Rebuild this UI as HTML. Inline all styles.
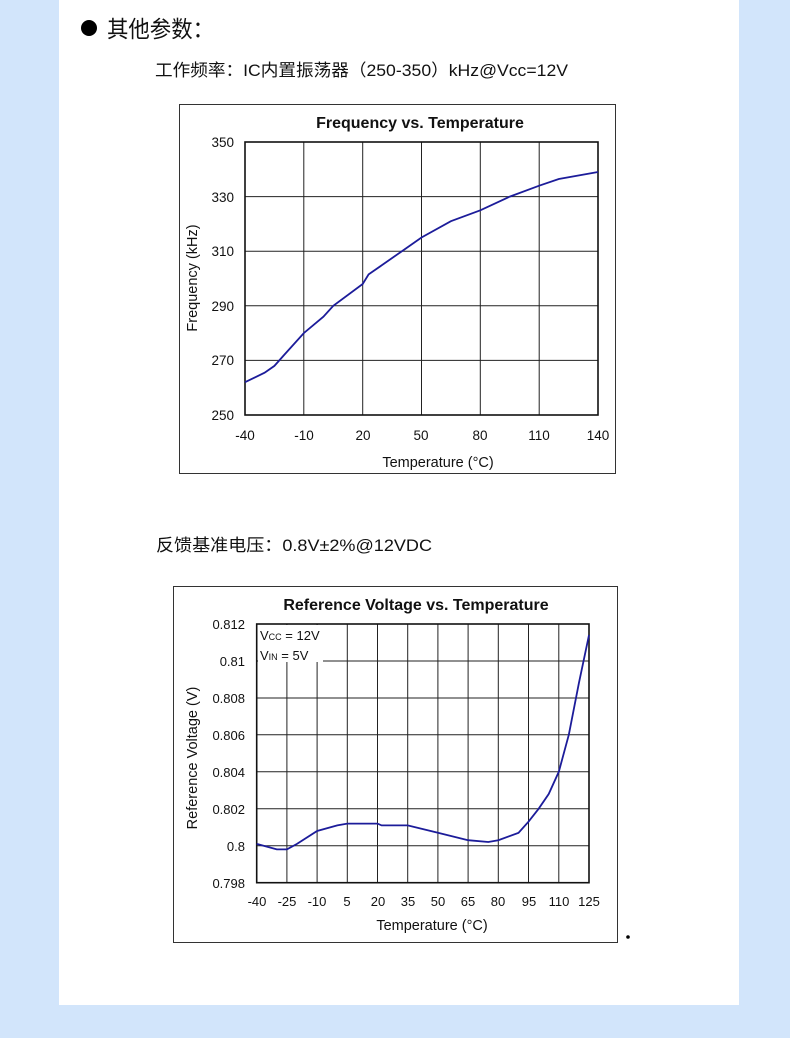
<!DOCTYPE html>
<html><head><meta charset="utf-8"><style>
html,body{margin:0;padding:0;width:790px;height:1038px;overflow:hidden;background:#d2e5fb;}
svg{position:absolute;left:0;top:0;}
</style></head><body>
<svg width="790" height="1038" viewBox="0 0 790 1038" xmlns="http://www.w3.org/2000/svg">
<rect x="0" y="0" width="790" height="1038" fill="#d2e5fb"/>
<rect x="59" y="0" width="680" height="1005" fill="#ffffff"/>
<g font-family="'Liberation Sans','Noto Sans CJK SC',sans-serif" fill="#111">
<circle cx="89" cy="28" r="8" fill="#000"/>
<text x="107" y="37" font-size="23" textLength="107" lengthAdjust="spacingAndGlyphs">其他参数：</text>
<text x="155" y="76" font-size="17" textLength="413" lengthAdjust="spacingAndGlyphs">工作频率：IC内置振荡器（250-350）kHz@Vcc=12V</text>
<text x="156" y="551" font-size="17" textLength="276" lengthAdjust="spacingAndGlyphs">反馈基准电压：0.8V±2%@12VDC</text>
</g>

<!-- Chart 1 -->
<g font-family="'Liberation Sans',Arial,sans-serif" fill="#111">
<rect x="179.5" y="104.5" width="436" height="369" fill="#fff" stroke="#333" stroke-width="1"/>
<text x="420" y="128" font-size="16" font-weight="bold" text-anchor="middle">Frequency vs. Temperature</text>
<g stroke="#222" stroke-width="1">
<line x1="303.8" y1="142" x2="303.8" y2="415"/><line x1="362.7" y1="142" x2="362.7" y2="415"/>
<line x1="421.5" y1="142" x2="421.5" y2="415"/><line x1="480.3" y1="142" x2="480.3" y2="415"/>
<line x1="539.2" y1="142" x2="539.2" y2="415"/>
<line x1="245" y1="196.6" x2="598" y2="196.6"/><line x1="245" y1="251.2" x2="598" y2="251.2"/>
<line x1="245" y1="305.8" x2="598" y2="305.8"/><line x1="245" y1="360.4" x2="598" y2="360.4"/>
</g>
<rect x="245" y="142" width="353" height="273" fill="none" stroke="#111" stroke-width="1.6"/>
<g font-size="13.5" text-anchor="end">
<text x="234" y="147">350</text><text x="234" y="202">330</text><text x="234" y="256">310</text>
<text x="234" y="311">290</text><text x="234" y="365">270</text><text x="234" y="420">250</text>
</g>
<g font-size="13.5" text-anchor="middle">
<text x="245" y="440">-40</text><text x="304" y="440">-10</text><text x="363" y="440">20</text>
<text x="421" y="440">50</text><text x="480" y="440">80</text><text x="539" y="440">110</text><text x="598" y="440">140</text>
</g>
<text x="438" y="467" font-size="14.5" text-anchor="middle">Temperature (°C)</text>
<text transform="translate(197,278) rotate(-90)" font-size="14.5" text-anchor="middle">Frequency (kHz)</text>
<polyline fill="none" stroke="#1c1c9a" stroke-width="1.8" points="245,382.2 264.6,372.7 274.4,365.9 284.2,354.9 303.8,333.1 323.4,316.7 333.3,305.8 362.7,284 368.6,274.4 382.3,264.9 401.9,251.2 421.5,237.5 450.9,221.2 480.3,210.3 509.8,196.6 539.2,185.7 558.8,179 598,172"/>
</g>

<!-- Chart 2 -->
<g font-family="'Liberation Sans',Arial,sans-serif" fill="#111">
<rect x="173.5" y="586.5" width="444" height="356" fill="#fff" stroke="#333" stroke-width="1"/>
<text x="416" y="610" font-size="16" font-weight="bold" text-anchor="middle">Reference Voltage vs. Temperature</text>
<g stroke="#222" stroke-width="1">
<line x1="286.9" y1="624" x2="286.9" y2="882.7"/><line x1="317.1" y1="624" x2="317.1" y2="882.7"/>
<line x1="347.3" y1="624" x2="347.3" y2="882.7"/><line x1="377.5" y1="624" x2="377.5" y2="882.7"/>
<line x1="407.7" y1="624" x2="407.7" y2="882.7"/><line x1="437.9" y1="624" x2="437.9" y2="882.7"/>
<line x1="468.1" y1="624" x2="468.1" y2="882.7"/><line x1="498.3" y1="624" x2="498.3" y2="882.7"/>
<line x1="528.5" y1="624" x2="528.5" y2="882.7"/><line x1="558.8" y1="624" x2="558.8" y2="882.7"/>
<line x1="256.7" y1="661" x2="589" y2="661"/><line x1="256.7" y1="698" x2="589" y2="698"/>
<line x1="256.7" y1="734.8" x2="589" y2="734.8"/><line x1="256.7" y1="771.8" x2="589" y2="771.8"/>
<line x1="256.7" y1="808.8" x2="589" y2="808.8"/><line x1="256.7" y1="845.7" x2="589" y2="845.7"/>
</g>
<rect x="258" y="625" width="65" height="37" fill="#fff"/>
<rect x="256.7" y="624" width="332.3" height="258.7" fill="none" stroke="#111" stroke-width="1.6"/>
<text x="260" y="640" font-size="13">V<tspan font-size="9">CC</tspan> = 12V</text>
<text x="260" y="660" font-size="13">V<tspan font-size="9">IN</tspan> = 5V</text>
<g font-size="13" text-anchor="end">
<text x="245" y="629">0.812</text><text x="245" y="666">0.81</text><text x="245" y="703">0.808</text>
<text x="245" y="740">0.806</text><text x="245" y="777">0.804</text><text x="245" y="814">0.802</text>
<text x="245" y="851">0.8</text><text x="245" y="888">0.798</text>
</g>
<g font-size="13" text-anchor="middle">
<text x="257" y="906">-40</text><text x="287" y="906">-25</text><text x="317" y="906">-10</text>
<text x="347" y="906">5</text><text x="378" y="906">20</text><text x="408" y="906">35</text>
<text x="438" y="906">50</text><text x="468" y="906">65</text><text x="498" y="906">80</text>
<text x="529" y="906">95</text><text x="559" y="906">110</text><text x="589" y="906">125</text>
</g>
<text x="432" y="930" font-size="14.5" text-anchor="middle">Temperature (°C)</text>
<text transform="translate(197,758) rotate(-90)" font-size="14.5" text-anchor="middle">Reference Voltage (V)</text>
<polyline fill="none" stroke="#1c1c9a" stroke-width="1.8" points="256.7,843.9 276.8,849.4 286.9,849.4 297,843.9 317.1,831 337.3,825.4 347.3,823.6 377.5,823.6 381.6,825.4 407.7,825.4 437.9,832.8 468.1,840.2 488.3,842 498.3,840.2 518.5,832.8 528.5,821.7 538.6,808.8 548.7,794 558.8,771.8 568.8,734.8 578.9,683.1 589,635.1"/>
<circle cx="628" cy="937" r="1.8" fill="#000"/>
</g>
</svg>
</body></html>
